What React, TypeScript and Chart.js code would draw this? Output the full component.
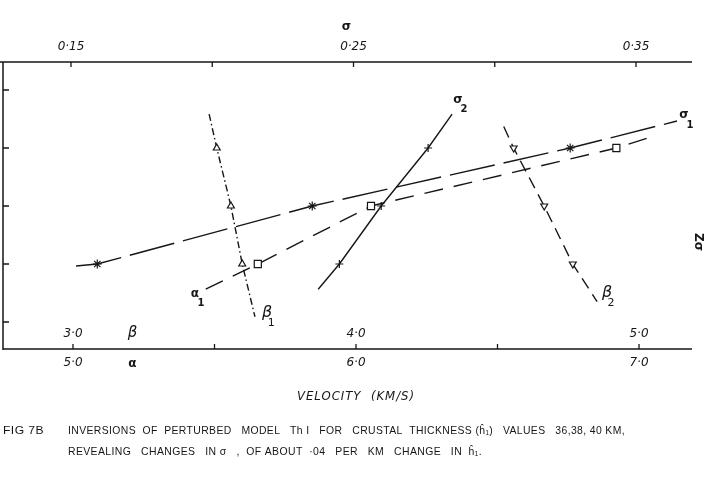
import { useEffect, useRef } from "react";
import { Chart, registerables } from "chart.js";

Chart.register(...registerables);

// ---- data (velocity scales; y = crustal thickness level) ----
const sigma1X = [0.1518, 0.1593, 0.2354, 0.3267, 0.3645];
const sigma1Y = [35.93, 36, 38, 40, 40.93];
const alpha1X = [5.469, 5.653, 6.053, 6.92, 7.064];
const alpha1Y = [35.13, 36, 38, 40, 40.45];
const beta1X = [3.481, 3.508, 3.558, 3.598, 3.643];
const beta1Y = [41.17, 40, 38, 36, 34.18];
const sigma2X = [0.2375, 0.245, 0.2598, 0.2764, 0.2849];
const sigma2Y = [35.13, 36, 38, 40, 41.17];
const beta2X = [4.522, 4.557, 4.665, 4.766, 4.852];
const beta2Y = [40.74, 40, 38, 36, 34.7];

// ---- ticks ----
const sigmaTicks = [0.15, 0.2, 0.25, 0.3, 0.35];
const sigmaTickLabels = ["0·15", "", "0·25", "", "0·35"];
const alphaTicks = [5, 5.5, 6, 6.5, 7];
const alphaTickLabels = ["5·0", "", "6·0", "", "7·0"];
const betaTicks = [3, 3.5, 4, 4.5, 5];
const betaTickLabels = ["3·0", "", "4·0", "", "5·0"];
const thicknessTicks = [34, 36, 38, 40, 42];

// ---- series labels (anchored in data coordinates of their own scale) ----
const seriesLabels = [
  { text: "σ", sub: "1", scale: "xs", x: 0.367, y: 41.14, kind: "sigma" },
  { text: "σ", sub: "2", scale: "xs", x: 0.287, y: 41.66, kind: "sigma" },
  { text: "α", sub: "1", scale: "xa", x: 5.431, y: 34.97, kind: "alpha" },
  { text: "β", sub: "1", scale: "xb", x: 3.686, y: 34.31, kind: "beta" },
  { text: "β", sub: "2", scale: "xb", x: 4.887, y: 35.0, kind: "beta" },
];

const axisTitle = "VELOCITY  (KM/S)";
const captionTag = "FIG 7B";
const captionLine1 =
  "INVERSIONS  OF  PERTURBED   MODEL   Th I   FOR   CRUSTAL  THICKNESS (ĥ₁)   VALUES   36,38, 40 KM,";
const captionLine2 = "REVEALING   CHANGES   IN σ   ,  OF ABOUT  ·04   PER   KM   CHANGE   IN  ĥ₁.";

const INK = "#161616";

function mk(xs: number[], ys: number[], axis: string, dash: number[], style: any, r: number, rot = 0) {
  const last = xs.length - 1;
  return {
    xAxisID: axis,
    yAxisID: "y",
    data: xs.map((x, i) => ({ x, y: ys[i] })),
    showLine: true,
    borderColor: INK,
    borderWidth: 1.4,
    borderDash: dash,
    pointRadius: xs.map((_, i) => (i === 0 || i === last ? 0 : r)),
    pointStyle: style,
    pointRotation: rot,
    pointBorderColor: INK,
    pointBorderWidth: 1.2,
    pointBackgroundColor: "#fff",
    fill: false,
    tension: 0,
  };
}

function fitText(ctx: CanvasRenderingContext2D, text: string, x: number, y: number, width: number) {
  const w = ctx.measureText(text).width;
  ctx.save();
  ctx.translate(x, y);
  ctx.scale(width / w, 1);
  ctx.textAlign = "left";
  ctx.fillText(text, 0, 0);
  ctx.restore();
}

const decor = {
  id: "decor",
  afterDraw(chart: any) {
    const { ctx, chartArea: a, scales } = chart;
    const xs = scales.xs, xa = scales.xa, xb = scales.xb, y = scales.y;
    ctx.save();
    ctx.strokeStyle = INK;
    ctx.fillStyle = INK;
    ctx.lineWidth = 1.5;
    ctx.setLineDash([]);
    ctx.beginPath();
    ctx.moveTo(a.left, a.top);
    ctx.lineTo(a.left, a.bottom + 1);
    ctx.moveTo(0, a.top);
    ctx.lineTo(a.right, a.top);
    ctx.moveTo(a.left, a.bottom);
    ctx.lineTo(a.right, a.bottom);
    ctx.stroke();

    ctx.lineWidth = 1.3;
    ctx.beginPath();
    sigmaTicks.forEach((v) => {
      const px = xs.getPixelForValue(v);
      ctx.moveTo(px, a.top);
      ctx.lineTo(px, a.top + 5);
    });
    alphaTicks.forEach((v) => {
      const px = xa.getPixelForValue(v);
      ctx.moveTo(px, a.bottom);
      ctx.lineTo(px, a.bottom - 5);
    });
    thicknessTicks.forEach((v) => {
      const py = y.getPixelForValue(v);
      ctx.moveTo(a.left, py);
      ctx.lineTo(a.left + 6, py);
    });
    ctx.stroke();

    ctx.textAlign = "center";
    ctx.textBaseline = "middle";
    ctx.font = "italic 12px 'DejaVu Sans'";
    sigmaTicks.forEach((v, i) => {
      if (sigmaTickLabels[i]) ctx.fillText(sigmaTickLabels[i], xs.getPixelForValue(v), a.top - 15);
    });
    betaTicks.forEach((v, i) => {
      if (betaTickLabels[i]) ctx.fillText(betaTickLabels[i], xb.getPixelForValue(v), a.bottom - 15);
    });
    alphaTicks.forEach((v, i) => {
      if (alphaTickLabels[i]) ctx.fillText(alphaTickLabels[i], xa.getPixelForValue(v), a.bottom + 14);
    });

    // axis titles
    ctx.font = "bold 12px 'DejaVu Sans'";
    ctx.fillText("σ", xs.getPixelForValue(0.2475), a.top - 35);
    ctx.fillText("α", xb.getPixelForValue(3.21), a.bottom + 15);
    ctx.font = "italic 15px 'DejaVu Sans'";
    ctx.fillText("β", xb.getPixelForValue(3.21), a.bottom - 16);

    ctx.font = "italic 12px 'DejaVu Sans'";
    (ctx as any).letterSpacing = "1px";
    fitText(ctx, axisTitle, 297, 397, 118);
    (ctx as any).letterSpacing = "0px";

    // series labels
    seriesLabels.forEach((l) => {
      const px = scales[l.scale].getPixelForValue(l.x);
      const py = y.getPixelForValue(l.y);
      ctx.textAlign = "center";
      if (l.kind === "beta") {
        ctx.font = "italic 16px 'DejaVu Sans'";
        ctx.fillText(l.text, px, py);
        ctx.font = "11px 'DejaVu Sans'";
        ctx.fillText(l.sub, px + 4, py + 10);
      } else {
        ctx.font = "bold 12px 'DejaVu Sans'";
        ctx.fillText(l.text, px, py);
        ctx.font = "bold 10px 'DejaVu Sans'";
        ctx.fillText(l.sub, px + 6, py + 10);
      }
    });

    // caption
    ctx.font = "11px 'Liberation Sans'";
    (ctx as any).letterSpacing = "0.4px";
    fitText(ctx, captionTag, 3, 431, 41);
    fitText(ctx, captionLine1, 68, 431, 557);
    fitText(ctx, captionLine2, 68, 452, 414);
    (ctx as any).letterSpacing = "0px";

    // clipped side label
    ctx.save();
    ctx.translate(698, 242);
    ctx.rotate(Math.PI / 2);
    ctx.textAlign = "center";
    ctx.font = "bold 12px 'DejaVu Sans'";
    ctx.fillText("Zσ", 0, 0);
    ctx.restore();

    ctx.restore();
  },
};

export default function App() {
  const ref = useRef<HTMLCanvasElement>(null);
  useEffect(() => {
    document.body.style.margin = "0";
    const chart = new Chart(ref.current!, {
      type: "scatter",
      data: {
        datasets: [
          mk(sigma1X, sigma1Y, "xs", [46, 9], "star", 4.5),
          mk(alpha1X, alpha1Y, "xa", [19, 11], "rect", 5),
          mk(beta1X, beta1Y, "xb", [7, 3, 1.5, 3], "triangle", 4),
          mk(sigma2X, sigma2Y, "xs", [], "cross", 4),
          mk(beta2X, beta2Y, "xb", [12, 7], "triangle", 4, 180),
        ] as any,
      },
      options: {
        animation: false,
        responsive: false,
        devicePixelRatio: 1,
        layout: { padding: { left: 3, top: 62, right: 12, bottom: 135 } },
        plugins: { legend: { display: false }, tooltip: { enabled: false } },
        scales: {
          xa: { type: "linear", position: "bottom", min: 4.75265, max: 7.18728, display: false },
          xb: { type: "linear", position: "bottom", min: 2.75265, max: 5.18728, display: false },
          xs: { type: "linear", position: "top", min: 0.12593, max: 0.36982, display: false },
          y: { type: "linear", min: 33.069, max: 42.966, display: false },
        },
      } as any,
      plugins: [decor],
    });
    return () => chart.destroy();
  }, []);
  return <canvas ref={ref} width={704} height={484} style={{ display: "block" }} />;
}
